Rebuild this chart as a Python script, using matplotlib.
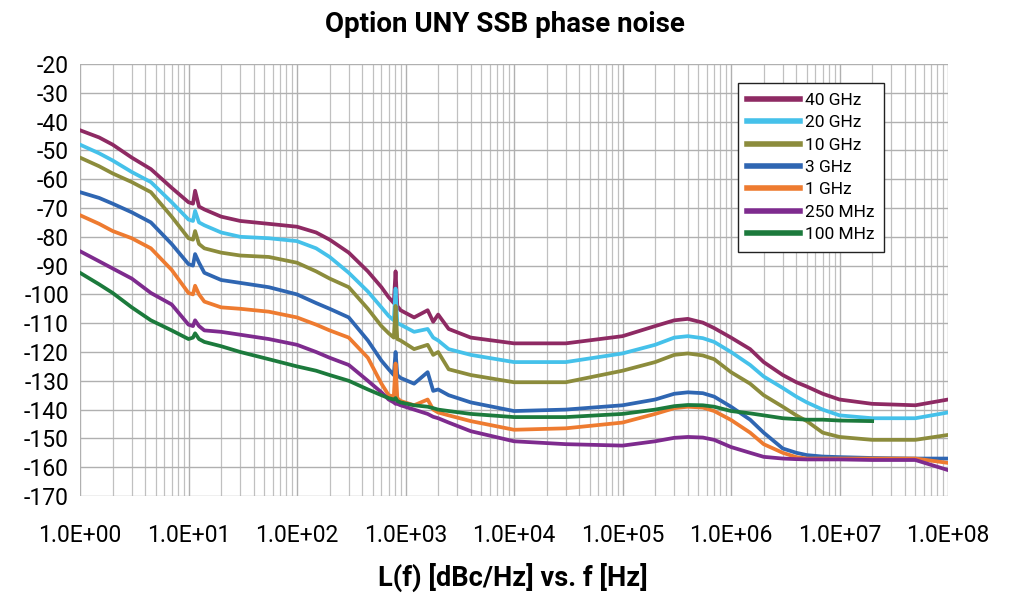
import numpy as np
import matplotlib
matplotlib.use("Agg")
import matplotlib.pyplot as plt
from matplotlib.ticker import FixedLocator, LogLocator, NullFormatter

plt.rcParams['font.family'] = ['Roboto', 'DejaVu Sans']
plt.rcParams['axes.unicode_minus'] = False

# offset frequency [Hz]
freq = [1, 1.5, 2, 3, 4.5, 7, 10, 11, 11.5, 12.5,
        14, 20, 30, 55, 100, 150, 200, 300, 450, 600,
        700, 780, 810, 840, 900, 1200, 1600, 1800, 2000, 2500,
        4000, 1e4, 3e4, 1e5, 2e5, 3e5, 4e5, 5.5e5, 7e5, 1e6,
        1.5e6, 2e6, 3e6, 4e6, 5e6, 7e6, 1e7, 2e7, 5e7, 1e8]

# L(f) [dBc/Hz] per carrier
ghz40 = [-43, -45.5, -48, -52.5, -56.5, -63, -68, -68.5, -64, -69.5,
         -70.5, -73, -74.5, -75.5, -76.5, -78.5, -81, -85.5, -92, -97.5,
         -101, -103, -92, -104, -105.5, -108, -105.5, -109.5, -107, -112,
         -115, -117, -117, -114.5, -111, -109, -108.5, -109.8, -111.7, -115,
         -119, -123.5, -128, -130.5, -132, -134.5, -136.5, -138, -138.5, -136.5]
ghz20 = [-48, -51, -53.5, -57.5, -61, -68, -74, -74.5, -71, -75,
         -76, -78.5, -80, -80.5, -81.5, -84, -87, -92.5, -99, -104.5,
         -107.5, -109, -98, -110, -110.5, -113, -112, -115, -116, -119,
         -121, -123.5, -123.5, -120.5, -117.5, -115, -114.5, -115.2, -116.5, -120,
         -124.5, -128.5, -132.5, -135.5, -137.5, -140, -142, -143, -143, -141]
ghz10 = [-52.5, -55.5, -58, -61, -64.5, -73, -80.5, -81, -78, -82.5,
         -84, -85.5, -86.5, -87, -89, -92, -94.5, -97.5, -105, -111,
         -113.5, -115, -104, -115.5, -116, -119, -117.5, -121, -120, -126,
         -128, -130.5, -130.5, -126.5, -123.5, -121, -120.5, -121.2, -122.5, -127,
         -131, -135, -139, -142, -144, -148, -149.5, -150.5, -150.5, -148.8]
ghz3 = [-64.5, -66.5, -68.5, -71.5, -75, -82.5, -89.5, -90, -86, -89,
        -92.5, -95, -96, -97.5, -100, -103, -105, -108, -116, -123,
        -126, -128, -120, -128, -129, -131, -127, -133.5, -133, -135,
        -137.5, -140.5, -140, -138.5, -136.5, -134.5, -134, -134.3, -135.5, -139,
        -143.5, -148, -153.5, -155, -155.8, -156.3, -156.5, -156.8, -157, -157]
ghz1 = [-72.5, -75.5, -78, -80.5, -84, -91.5, -99.5, -100, -97, -100,
        -102.5, -104.5, -105, -106, -108, -110.5, -112.5, -115, -122, -131,
        -135, -135.5, -124, -136, -137, -138.5, -136.5, -140, -141, -142,
        -144, -147, -146.5, -144.5, -141.5, -139.5, -139, -139.3, -140.5, -143.6,
        -148, -152, -155, -156.5, -157, -157, -157, -157, -157, -158.5]
mhz250 = [-85, -88.5, -91, -94.5, -99.5, -103.5, -110.5, -111, -109, -111,
          -112.5, -113, -114, -115.5, -117.5, -120, -122, -124.5, -130, -134,
          -136.5, -137.5, -138, -138, -138.5, -140, -141.5, -142.5, -143, -144.5,
          -147.5, -151, -152, -152.5, -151, -149.8, -149.5, -149.7, -150.5, -153,
          -155, -156.4, -157, -157.2, -157.3, -157.3, -157.3, -157.5, -157.5, -161]
mhz100 = [-92.5, -96.5, -99.5, -104.5, -109, -112.5, -115.5, -115, -113.5, -115.5,
          -116.5, -118, -120, -122.5, -125, -126.5, -128, -130, -133, -135,
          -136, -136.5, -136, -137, -137.5, -138.5, -139, -139.5, -140, -140.5,
          -141.5, -142.6, -142.6, -141.5, -140, -138.8, -138.4, -138.5, -139, -140.5,
          -141.3, -142, -143, -143.3, -143.5, -143.5, -143.8, -144, np.nan, np.nan]

labels = ['40 GHz', '20 GHz', '10 GHz', '3 GHz', '1 GHz', '250 MHz', '100 MHz']
series = [ghz40, ghz20, ghz10, ghz3, ghz1, mhz250, mhz100]
colors = ['#8E2A63', '#45C1EA', '#8C8C3C', '#2F66B2', '#EE7B30', '#7E2B8E', '#1C7A3C']

fig = plt.figure(figsize=(10.09, 5.95), dpi=100)
ax = fig.add_axes([80/1009, 99/595, 868/1009, 432/595])

for i, (lab, vals, c) in enumerate(zip(labels, series, colors)):
    ax.plot(freq, vals, color=c, lw=2.7, label=lab, zorder=3 + i,
            solid_joinstyle='round')

ax.set_xscale('log')
ax.set_xlim(1, 1e8)
ax.set_ylim(-170, -20)
ax.yaxis.set_major_locator(FixedLocator(np.arange(-170, -19, 10)))
ax.xaxis.set_minor_locator(LogLocator(base=10, subs=np.arange(2, 10), numticks=200))
ax.xaxis.set_minor_formatter(NullFormatter())
ax.set_xticks([10.0**k for k in range(9)])
ax.set_xticklabels(['1.0E+%02d' % k for k in range(9)])
ax.grid(True, which='major', color='#b0b0b0', lw=1.0)
ax.grid(True, which='minor', axis='x', color='#c0c0c0', lw=0.9)
ax.tick_params(which='both', length=0)
ax.tick_params(axis='y', labelsize=16.5, pad=8)
ax.tick_params(axis='x', labelsize=16.5, pad=20)
for sp in ax.spines.values():
    sp.set_visible(False)

leg = ax.legend(loc='upper right', bbox_to_anchor=(0.926, 0.956), borderaxespad=0,
                fontsize=12.5, handlelength=3.0, handletextpad=0.3,
                labelspacing=0.42, fancybox=False, framealpha=1,
                borderpad=0.55)
leg.get_frame().set_edgecolor('#222222')
leg.get_frame().set_linewidth(1.0)
for h in leg.get_lines():
    h.set_linewidth(4)

fig.text(0.5, 0.958, 'Option UNY SSB phase noise', ha='center', va='center',
         fontsize=20, fontweight='bold')
fig.text(0.508, 0.03, 'L(f) [dBc/Hz] vs. f [Hz]', ha='center', va='center',
         fontsize=19.5, fontweight='bold')

fig.savefig('out.png', dpi=100, facecolor='white')
